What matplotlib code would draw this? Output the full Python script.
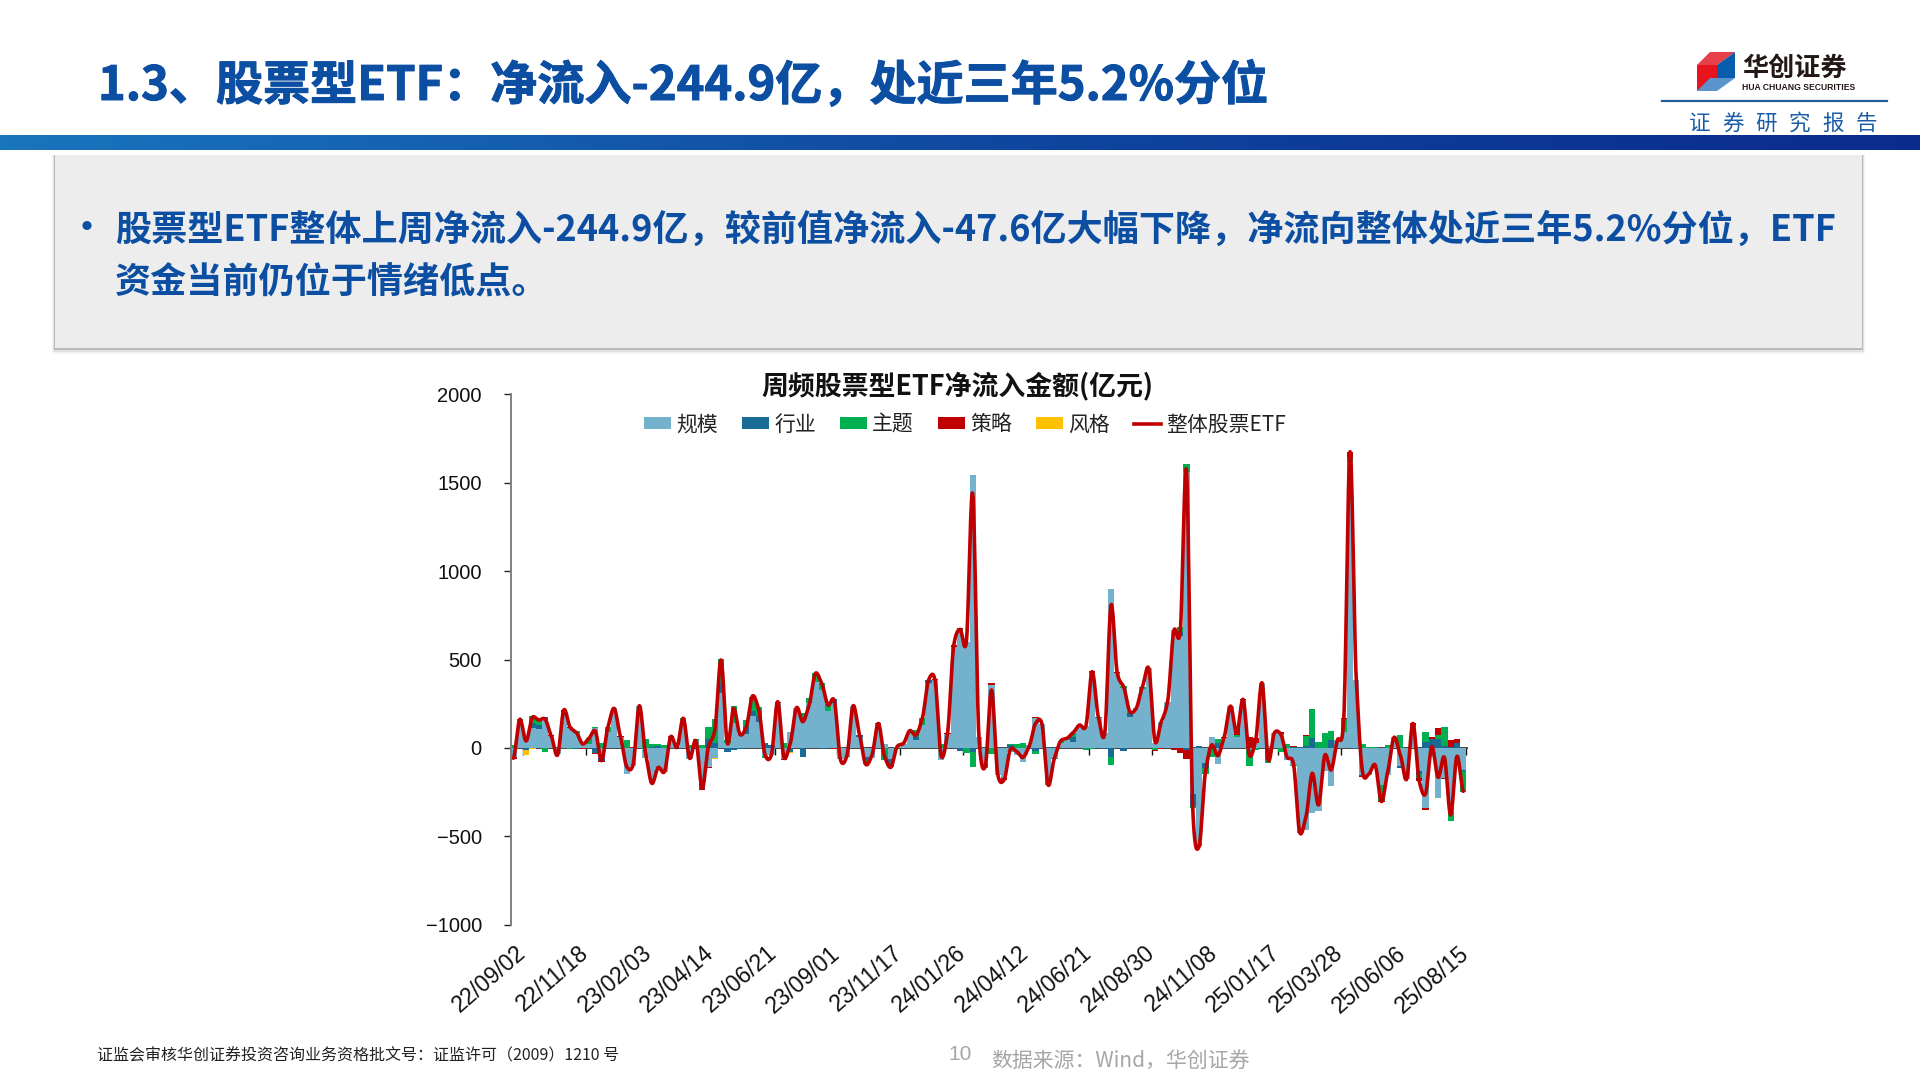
import numpy as np
import matplotlib
matplotlib.use('Agg')
import matplotlib.pyplot as plt
import matplotlib.patheffects as pe
from matplotlib.patches import Patch, Polygon, Rectangle
from matplotlib.lines import Line2D
from matplotlib.transforms import ScaledTranslation

plt.rcParams['font.family'] = ['Noto Sans CJK SC', 'DejaVu Sans']

# Weekly net inflow, 100m CNY
total = [-58, 162, 40, 173, 158, 164, 68, -40, 215, 117,
         87, 23, 55, 96, -72, 117, 224, 64, -105, -96,
         239, -30, -200, -110, -134, 64, 4, 168, -58, 41,
         -228, 8, 100, 498, 26, 224, 77, 117, 294, 215,
         -40, -40, 262, -53, 26, 228, 149, 243, 422, 366,
         243, 268, -68, -45, 239, 77, -92, -40, 139, -49,
         -109, 8, 26, 98, 73, 168, 385, 388, -45, 83,
         582, 671, 601, 1440, 64, -105, 328, -150, -180, -8,
         -20, -53, 11, 139, 139, -209, -58, 40, 55, 88,
         130, 124, 432, 173, 83, 809, 422, 347, 205, 224,
         347, 450, 36, 149, 262, 664, 658, 1568, -350, -558,
         -139, 17, -43, 64, 237, 83, 275, -40, 45, 369,
         -68, 87, 77, -53, -87, -477, -388, -143, -322, -40,
         -124, 45, 162, 1676, 384, -138, -147, -96, -303, -134,
         60, -40, -177, 139, -187, -260, 8, -166, -53, -379,
         -47.6, -244.9]
scale = [-49, 150, 45, 111, 105, 158, 68, -35, 205, 115,
         85, 22, 25, 115, -58, 92, 224, 65, -145, -100,
         235, -55, -200, -115, -135, 64, 5, 160, -65, 40,
         -205, -109, -58, 309, 30, 139, 80, 79, 181, 149,
         -45, -40, 255, -65, 92, 228, 150, 252, 375, 328,
         211, 252, -65, -45, 235, 65, -50, -55, 135, 25,
         -65, 8, 25, 95, 45, 130, 370, 385, -70, 80,
         570, 660, 600, 1544, 65, -90, 355, -150, -170, -25,
         -40, -80, 15, 168, 135, -195, -58, 30, 45, 36,
         130, 122, 425, 170, 84, 899, 425, 340, 175, 225,
         335, 455, 30, 148, 262, 670, 633, 1560, -260, -545,
         -85, 64, -90, 55, 237, 60, 270, -10, 30, 370,
         10, 85, 80, -70, -95, -470, -465, -370, -355, -130,
         -215, 45, 92, 1620, 385, -150, -150, -105, -210, -150,
         60, -100, -175, 125, -130, -340, -50, -280, -170, -360,
         -90, -125]
sector = [0, 0, -10, 28, 26, 20, 0, 0, 0, 0,
          -5, 0, 0, -30, -13, 0, 0, 0, 0, 0,
          0, 0, 5, 10, 0, 0, 0, 0, 0, 0,
          -25, 50, 26, 60, -20, -12, -8, 38, 30, 32,
          26, 17, 0, 0, -25, 0, -50, 0, 0, -5,
          0, 23, 8, 0, 0, 10, -20, 0, 0, 0,
          -45, 0, 0, 0, 19, 0, 15, 0, 0, 0,
          0, -15, 0, -20, 0, -15, 0, 0, 0, 17,
          0, 0, 0, -15, 0, 5, 0, 0, 0, 25,
          0, 0, 0, 0, -4, -49, 0, -15, 22, 0,
          0, 0, 0, 0, 0, 0, 22, -10, -70, 11,
          -30, 0, 26, 0, 0, 0, 0, 0, 0, 0,
          -68, 0, 0, 0, 8, 8, 10, 58, 0, 0,
          45, 0, 0, 0, -5, -10, 0, 0, 0, 0,
          0, -15, 0, 0, -15, 33, 50, 49, 11, 8,
          30, -5]
theme = [17, 15, 20, 43, 30, -20, 0, 8, 0, -5,
         10, -2, 30, 5, 26, 25, 0, 0, 45, 0,
         0, 50, 20, 15, 15, 0, 0, 8, 15, 10,
         15, 70, 136, 132, 15, 98, 0, 41, 75, 49,
         -12, 0, 0, 30, 0, 0, 50, 30, 47, 40,
         36, 0, 0, -5, 0, 0, -20, 0, 0, -70,
         0, 0, 0, 0, 38, 40, 0, 0, 25, 0,
         0, 15, -30, -85, 0, -10, -35, 0, 0, 5,
         20, 26, 0, -20, 0, -15, -3, 10, 12, 22,
         0, -10, -5, 8, 0, -48, 0, 10, 10, 0,
         12, 0, -12, 0, 0, 0, 30, 46, -10, -10,
         -30, -50, 26, 0, 0, 15, 0, -90, -12, 0,
         -15, 0, -25, 20, -8, -10, 60, 165, 36, 87,
         51, 0, 72, 20, 0, 22, 6, 8, -90, 18,
         5, 73, 0, 0, -25, 60, 0, 25, 105, -55,
         0, -120]
strategy = [-15, 0, 0, 0, 0, 0, 5, 0, 8, 5,
            0, -3, 0, -5, -8, 0, 3, 3, 0, 3,
            5, 0, 0, 0, 0, 3, 0, 0, 0, 0,
            -5, -5, 0, 0, 0, 3, 0, 0, 0, 0,
            0, 0, 5, -5, 0, 0, -3, 0, 0, 0,
            0, -5, 0, 0, 5, 0, 0, 5, 5, 0,
            0, 0, 0, 0, 0, 0, 0, 5, 0, 3,
            10, 5, 0, 0, 0, 0, 10, 0, -10, 0,
            0, 0, 0, 5, 0, 0, 0, 0, 0, 0,
            0, 0, 10, 0, 0, 0, 5, 0, 0, 0,
            0, 0, -3, -5, 0, -10, -30, -50, 0, 0,
            0, 0, -3, 8, 0, 45, 5, 60, 25, 0,
            0, 0, 10, 0, 5, 0, 6, 0, -3, 0,
            0, 0, 3, 35, 0, -6, 0, 0, -5, 0,
            0, 0, 0, 15, -15, -8, 10, 38, -3, 36,
            20, 0]
style = [0, 0, -28, -8, 0, 0, 0, 0, 0, 0,
         0, 0, 0, 0, 0, 0, 0, 0, 0, 0,
         0, -3, 0, 0, 0, 0, 0, 0, 0, 0,
         0, 0, -3, 0, 0, 0, 0, 0, 0, 0,
         0, 0, 0, 0, -5, 0, 0, 0, 0, 0] + [0] * 102

date_labels = ['22/09/02', '22/11/18', '23/02/03', '23/04/14', '23/06/21', '23/09/01',
               '23/11/17', '24/01/26', '24/04/12', '24/06/21', '24/08/30', '24/11/08',
               '25/01/17', '25/03/28', '25/06/06', '25/08/15']
series_names = ['规模', '行业', '主题', '策略', '风格']
series_colors = ['#73B1CC', '#1A6A96', '#00B050', '#C00000', '#FFC000']
line_name = '整体股票ETF'

title_text = '1.3、股票型ETF：净流入-244.9亿，处近三年5.2%分位'
body_lines = ['股票型ETF整体上周净流入-244.9亿，较前值净流入-47.6亿大幅下降，净流向整体处近三年5.2%分位，ETF',
              '资金当前仍位于情绪低点。']
report_label = '证券研究报告'
BLUE = '#0B4EA2'


def smooth_line(y, per_seg=16, k=0.36):
    # smoothed line through the weekly totals, tighter than plain Catmull-Rom so peaks do not overshoot
    y = np.asarray(y, dtype=float)
    xs, ys = [], []
    pad = np.r_[y[0], y, y[-1]]
    for i in range(len(y) - 1):
        t = np.linspace(0, 1, per_seg, endpoint=False)
        p0, p1, p2, p3 = pad[i], pad[i + 1], pad[i + 2], pad[i + 3]
        m1, m2 = k * (p2 - p0), k * (p3 - p1)
        ys.append((2 * t ** 3 - 3 * t ** 2 + 1) * p1 + (t ** 3 - 2 * t ** 2 + t) * m1
                  + (-2 * t ** 3 + 3 * t ** 2) * p2 + (t ** 3 - t ** 2) * m2)
        xs.append(i + t)
    return np.r_[np.concatenate(xs), len(y) - 1], np.r_[np.concatenate(ys), y[-1]]


fig = plt.figure(figsize=(19.2, 10.8), dpi=100, facecolor='white')

# page furniture, drawn in pixel coordinates
page = fig.add_axes([0, 0, 1, 1])
page.axis('off')
pos = np.linspace(0, 1, 512)
band = np.dstack([np.interp(pos, [0, 0.55, 1], [0.10, 0.06, 0.04]),
                  np.interp(pos, [0, 0.55, 1], [0.46, 0.27, 0.17]),
                  np.interp(pos, [0, 0.55, 1], [0.74, 0.62, 0.55])])
page.imshow(band, extent=(0, 1920, 150, 135), aspect='auto')
for off, alpha in [(6, 0.06), (4, 0.12), (2, 0.28)]:
    page.add_patch(Rectangle((55 - off / 2, 155), 1807 + off, 193 + off, fc='#555555', ec='none', alpha=alpha))
page.add_patch(Rectangle((55, 155), 1807, 193, fc='#EDEDED', ec='none'))
page.set_xlim(0, 1920)
page.set_ylim(1080, 0)

heavy = [pe.withStroke(linewidth=0.7, foreground=BLUE)]
page.text(98, 86, title_text, fontsize=33.9, fontweight='bold', color=BLUE, va='center', ha='left',
          path_effects=heavy)
page.text(69, 229, '•', fontsize=26, fontweight='bold', color=BLUE, va='center', ha='left')
page.text(115, 230, body_lines[0], fontsize=26, fontweight='bold', color=BLUE, va='center', ha='left')
page.text(115, 283, body_lines[1], fontsize=26, fontweight='bold', color=BLUE, va='center', ha='left')

# logo
page.add_patch(Polygon([(1697, 65), (1710, 52), (1735, 52), (1717, 65)], fc='#E8404A', ec='none'))
page.add_patch(Polygon([(1697, 65), (1717, 65), (1717, 78), (1697, 91)], fc='#E8141C', ec='none'))
page.add_patch(Polygon([(1717, 65), (1735, 52), (1735, 78), (1717, 78)], fc='#0A5CAD', ec='none'))
page.add_patch(Polygon([(1697, 91), (1710, 78), (1735, 78), (1717, 91)], fc='#5B93CC', ec='none'))
page.text(1742, 68, '华创证券', fontsize=18.8, fontweight='bold', color='#231815', va='center', ha='left')
page.text(1742, 87, 'HUA CHUANG SECURITIES', fontsize=6.2, fontweight='bold', color='#231815',
          va='center', ha='left', family=['Liberation Sans'])
page.plot([1662, 1887], [101, 101], color='#1F5FA0', lw=1.6)
for i, ch in enumerate(report_label):
    page.text(1700 + 33.2 * i, 124, ch, fontsize=15.5, color='#1A5CA8', va='center', ha='center')

# footer
page.text(97, 1056, '证监会审核华创证券投资咨询业务资格批文号：证监许可（2009）1210 号', fontsize=11.5,
          color='#222222', va='center', ha='left')
page.text(960, 1055, '10', fontsize=15, color='#A6A6A6', va='center', ha='center', family=['Liberation Sans'])
page.text(991, 1061, '数据来源：Wind，华创证券', fontsize=15, color='#A6A6A6', va='center', ha='left')

# chart
x0, x1, y_top, y_bot = 511, 1467, 394.4, 924.8
ax = fig.add_axes([x0 / 1920, 1 - y_bot / 1080, (x1 - x0) / 1920, (y_bot - y_top) / 1080])
ax.patch.set_alpha(0)

xs = np.arange(len(total))
pos_base = np.zeros(len(total))
neg_base = np.zeros(len(total))
for vals, color in zip([scale, sector, theme, strategy, style], series_colors):
    vals = np.asarray(vals, dtype=float)
    base = np.where(vals >= 0, pos_base, neg_base)
    ax.bar(xs, vals, bottom=base, width=1.0, color=color, linewidth=0)
    pos_base += np.clip(vals, 0, None)
    neg_base += np.clip(vals, None, 0)

lx, ly = smooth_line(total)
ax.plot(lx, ly, color='#C00000', lw=2.6, solid_capstyle='round', zorder=6)

ax.set_xlim(-0.4, 151.6)
ax.set_ylim(-1000, 2000)
ax.set_yticks([-1000, -500, 0, 500, 1000, 1500, 2000])
tick_pos = 1.5 + 10 * np.arange(len(date_labels))
ax.set_xticks(tick_pos)
ax.set_xticklabels(date_labels, rotation=41, ha='right', rotation_mode='anchor',
                   fontsize=16.5, family=['Liberation Sans'], color='#111111')
ax.tick_params(axis='x', length=0, pad=12)
shift = ScaledTranslation(-8 / 100, 0, fig.dpi_scale_trans)
for lab in ax.get_xticklabels():
    lab.set_transform(lab.get_transform() + shift)
ax.tick_params(axis='y', length=5, width=1, color='#222222', pad=16)
for lab in ax.get_yticklabels():
    lab.set_fontfamily(['Liberation Sans'])
    lab.set_fontsize(14.5)
    lab.set_color('#111111')
for side in ['top', 'right', 'bottom']:
    ax.spines[side].set_visible(False)
ax.spines['left'].set_color('#808080')
ax.spines['left'].set_linewidth(1.4)

# zero line carries the tick marks, labels stay at the bottom
zero = ax.secondary_xaxis(1000 / 3000)
zero.set_xticks(tick_pos)
zero.tick_params(axis='x', length=5, width=1, color='#111111', labelbottom=False)
zero.spines['bottom'].set_color('#444444')
zero.spines['bottom'].set_linewidth(1.4)

fig.text(957 / 1920, 1 - 386 / 1080, '周频股票型ETF净流入金额(亿元)', fontsize=19.4, fontweight='bold',
         color='#111111', va='center', ha='center')
handles = [Patch(color=c, label=n, linewidth=0) for n, c in zip(series_names, series_colors)]
handles.append(Line2D([0], [0], color='#C00000', lw=2.6, label=line_name))
fig.legend(handles=handles, ncol=6, loc='center', bbox_to_anchor=(965 / 1920, 1 - 424.5 / 1080), frameon=False,
           fontsize=15, handlelength=1.3, handleheight=0.5, handletextpad=0.25, columnspacing=1.15,
           labelcolor='#222222')

fig.savefig('out.png', dpi=100)
